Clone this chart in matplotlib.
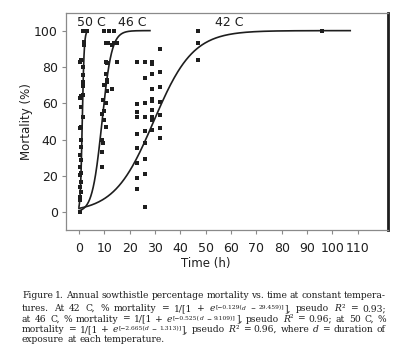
import numpy as np
import matplotlib
matplotlib.use('Agg')
from matplotlib import pyplot as plt

# observed mortality (%) vs exposure time (h) at each temperature
t50 = [0.5, 0.5, 0.6, 1.0, 0.5, 1.0, 0.5, 1.0, 0.6, 1.0, 0.5, 1.0, 1.0, 0.5, 1.0, 1.5,
       1.0, 0.5, 1.0, 1.5, 1.5, 1.5, 1.5, 1.5, 0.5, 1.0, 2.0, 2.0, 1.5, 2.0, 2.5, 3.0]
m50 = [0, 6.8, 8.6, 11.4, 14.1, 16.9, 20.6, 21.5, 25.1, 28.8, 31.5, 36.1, 39.8, 46.2, 47.2, 52.7,
       58.2, 62.8, 63.9, 64.8, 69.4, 72, 75.6, 80, 82.9, 83.8, 92.1, 94, 100, 100, 100, 100]

t46 = [9, 9, 9.5, 9, 10.5, 10, 9, 10, 10.5, 9.5, 11, 13, 10, 11, 11, 10.5, 11, 10.5,
       10.5, 11.5, 13, 14, 15, 15, 10, 12, 14]
m46 = [25, 33, 38, 40, 47, 51, 54, 56, 60, 62, 67, 68, 70, 72, 73, 76, 82, 83,
       93, 93, 92, 93, 83, 93, 100, 100, 100]

t42 = [23] * 9 + [26] * 9 + [29] * 10 + [32] * 7 + [47] * 3 + [96]
m42 = [83, 59.4, 55, 52.7, 43, 35.2, 27, 18.7, 12.8,
       83, 73.8, 60.4, 52.7, 44.8, 38, 29.2, 21.1, 2.8,
       83, 81.5, 76, 68, 62.4, 61.3, 56.3, 52.7, 50.8, 45.3,
       89.7, 77.4, 69, 61, 53.6, 46.2, 41.1,
       100, 93, 84,
       100]

# fitted logistic curves (parameters from the caption)
temps = ['42 C', '46 C', '50 C']
rates = [0.129, 0.525, 2.665]
mids = [29.459, 9.109, 1.313]
t_end = [107, 28, 3]

yticks = [0, 20, 40, 60, 80, 100]
xticks = list(range(0, 120, 10))

# caption: (text, kind) with n normal, i italic, s superscript, si italic superscript
# a leading space means a word gap before the piece
caption = [
    [('Figure 1. Annual sowthistle percentage mortality vs. time at constant tempera-', 'n')],
    [('tures. At 42 C, % mortality = 1/[1 +', 'n'), (' e', 'i'), ('[\u22120.129(', 's'), ('d', 'si'),
     (' \u2212 29.459)]', 's'), ('], pseudo', 'n'), (' R', 'i'), ('\u00b2 = 0.93;', 'n')],
    [('at 46 C, % mortality = 1/[1 +', 'n'), (' e', 'i'), ('[\u22120.525(', 's'), ('d', 'si'),
     (' \u2212 9.109)]', 's'), ('], pseudo', 'n'), (' R', 'i'), ('\u00b2 = 0.96; at 50 C, %', 'n')],
    [('mortality = 1/[1 +', 'n'), (' e', 'i'), ('[\u22122.665(', 's'), ('d', 'si'),
     (' \u2212 1.313)]', 's'), ('], pseudo', 'n'), (' R', 'i'), ('\u00b2 = 0.96, where', 'n'),
     (' d', 'i'), (' = duration of', 'n')],
    [('exposure at each temperature.', 'n')],
]

ink = '#1e1e1e'
grey = '#8a8a8a'

fig = plt.figure(figsize=(4, 3.6), dpi=100)
ax = fig.add_axes([66/400, 1 - 230/360, (388 - 66)/400, (230 - 13)/360])

for r, m0, te in zip(rates, mids, t_end):
    d = np.linspace(0, te, 300)
    ax.plot(d, 100 / (1 + np.exp(-r * (d - m0))), color=ink, lw=1.2)

for t, m in [(t50, m50), (t46, m46), (t42, m42)]:
    ax.plot(t, m, 's', color=ink, ms=2.3, mew=0, ls='none')

ax.text(5.1, 104.2, temps[2], ha='center', va='center', fontsize=9, color=ink)
ax.text(21.1, 104.2, temps[1], ha='center', va='center', fontsize=9, color=ink)
ax.text(59.2, 104.2, temps[0], ha='center', va='center', fontsize=9, color=ink)

ax.set_xlim(-5.1, 121.9)
ax.set_ylim(-9.7, 109.7)
ax.set_xticks(xticks)
ax.set_yticks(yticks)
ax.tick_params(axis='both', direction='out', length=3, width=0.8, color=grey,
               labelsize=9, labelcolor=ink, pad=3)
ax.tick_params(axis='x', pad=6)
for s in ['left', 'bottom', 'top']:
    ax.spines[s].set_color(grey)
    ax.spines[s].set_linewidth(0.9)
ax.spines['right'].set_color(ink)
ax.spines['right'].set_linewidth(2)

ax.set_ylabel('Mortality (%)', fontsize=8.5, color=ink)
ax.yaxis.set_label_coords((33 - 66) / 322, 0.5)
fig.text(206/400, 1 - 263/360, 'Time (h)', ha='center', va='center', fontsize=8.5, color=ink)

# caption, set word by word so the lines can be justified
fs = 6.6
sup = 0.66
rise = 1.8
x0, x1 = 22, 386
bottoms = [300.5, 313, 323.5, 334, 344.5]


def tokens_of(segs):
    toks = []
    for txt, kind in segs:
        for j, p in enumerate(txt.split(' ')):
            if p:
                toks.append((p, kind, j > 0))
    return toks


def place(toks, bottom, extra):
    arts = []
    prev_kind = None
    for p, kind, spaced in toks:
        small = kind in ('s', 'si')
        size = fs * sup if small else fs
        style = 'italic' if kind in ('i', 'si') else 'normal'
        kw = dict(ha='left', va='bottom', fontsize=size, family='DejaVu Serif',
                  style=style, color=ink)
        if not arts:
            arts.append(fig.text(x0/400, 1 - bottom/360, p, **kw))
        else:
            gap = (0.318 * size + extra) if spaced else 0.15
            dy = 0
            if small and prev_kind not in ('s', 'si'):
                dy = rise
            elif not small and prev_kind in ('s', 'si'):
                dy = -rise
            arts.append(ax.annotate(p, xy=(1, 0), xycoords=arts[-1], xytext=(gap, dy),
                                    textcoords='offset points', annotation_clip=False, **kw))
        prev_kind = kind
    return arts


renderer = fig.canvas.get_renderer()
for k, (segs, bottom) in enumerate(zip(caption, bottoms)):
    toks = tokens_of(segs)
    arts = place(toks, bottom, 0)
    if k < len(caption) - 1:
        right = arts[-1].get_window_extent(renderer).x1
        n_gaps = sum(1 for tk in toks[1:] if tk[2])
        extra = (x1 - right) / n_gaps * 72 / fig.dpi
        for a in arts:
            a.remove()
        place(toks, bottom, extra)

fig.savefig('out.png', dpi=100)
